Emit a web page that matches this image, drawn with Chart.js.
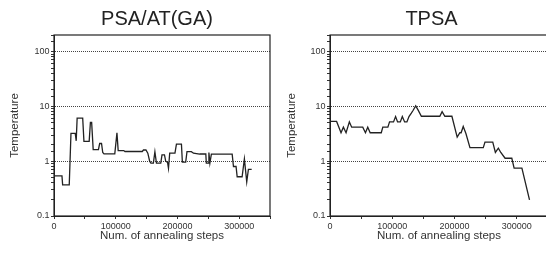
<!DOCTYPE html>
<html><head><meta charset="utf-8">
<script src="https://cdn.jsdelivr.net/npm/chart.js@4/dist/chart.umd.min.js"></script>
<style>
html,body{margin:0;padding:0;width:546px;height:253px;overflow:hidden;background:#fff;}
#c1{position:absolute;left:0;top:0;}
#c2{position:absolute;left:273px;top:0;}
.ttl{position:absolute;top:6px;height:24px;line-height:24px;text-align:center;
  font-family:'Liberation Sans', Arial, sans-serif;font-size:20px;color:#222;white-space:nowrap;z-index:2;}
#t1{left:0;width:314px;}
#t2{left:273px;width:317px;}
</style></head><body>
<canvas id="c1" width="314" height="253" style="width:314px;height:253px"></canvas>
<canvas id="c2" width="317" height="253" style="width:317px;height:253px"></canvas>
<div class="ttl" id="t1"></div>
<div class="ttl" id="t2"></div>
<script>
// ---- data ----
const chartTitles = ['PSA/AT(GA)', 'TPSA'];
const xTitle = 'Num. of annealing steps';
const yTitle = 'Temperature';
const xTickLabels = [0, 100000, 200000, 300000];
const yTickLabels = [0.1, 1, 10, 100];

const psaSteps = [0,12900,14000,24700,27500,34400,36000,37500,46500,48500,57000,59000,61000,63500,72000,74000,77000,79000,81000,98500,
  102000,104000,113000,115000,143000,145000,149000,152000,155000,157000,161000,163500,166000,173000,175000,179000,181000,184000,185500,187500,
  196000,198400,206500,208000,213400,215500,222600,226000,236000,246000,246800,250000,251000,252600,255000,288700,290800,295000,296800,304800,
  308500,312300,315000,320300];
const psaTemp = [0.54,0.54,0.37,0.37,3.2,3.2,2.35,6.1,6.1,2.3,2.3,5.1,5.1,1.63,1.63,2.1,2.1,1.44,1.36,1.36,
  3.3,1.56,1.56,1.5,1.5,1.6,1.6,1.4,1.0,0.92,0.92,1.48,0.92,0.92,1.3,1.3,1.0,0.95,0.74,1.4,
  1.4,2.04,2.04,0.96,0.96,1.49,1.49,1.4,1.35,1.35,0.92,0.92,1.44,0.92,1.34,1.34,0.8,0.8,0.52,0.52,
  1.1,0.42,0.71,0.71];

const tpsaSteps = [0,10600,17700,21500,25800,31100,34800,52600,56900,60600,64500,82300,84800,92900,95600,102000,105300,108500,112900,116100,
  119800,123500,126800,130600,133300,137600,141300,146700,176300,180000,184400,195700,204200,208500,210500,213900,218200,224700,246100,248800,
  261300,265500,270300,274200,281100,291900,295600,308100,320300];
const tpsaTemp = [5.3,5.3,3.3,4.17,3.3,5.2,4.17,4.17,3.3,4.17,3.3,3.3,4.17,4.17,5.2,5.2,6.5,5.2,5.2,6.5,
  5.2,5.2,6.5,7.5,8.4,10.2,8.6,6.6,6.6,8.0,6.6,6.6,2.74,3.3,3.3,4.3,3.2,1.77,1.77,2.22,
  2.22,1.44,1.73,1.44,1.13,1.13,0.745,0.745,0.197];

// ---- rendering ----
const FONT = "'Liberation Sans', Arial, sans-serif";
const isPow10 = v => Math.abs(Math.log10(v) - Math.round(Math.log10(v))) < 1e-9;

document.getElementById('t1').textContent = chartTitles[0];
document.getElementById('t2').textContent = chartTitles[1];

const frame = {
  id: 'frame',
  afterDatasetsDraw(chart) {
    const {ctx, chartArea: a} = chart;
    ctx.save();
    ctx.strokeStyle = '#222';
    ctx.lineWidth = 1.2;
    ctx.strokeRect(a.left, a.top, a.right - a.left, a.bottom - a.top);
    ctx.restore();
  }
};

function makeChart(id, steps, temps, yWidth, yTitlePad, padRight) {
  return new Chart(document.getElementById(id), {
    type: 'line',
    data: {
      datasets: [{
        data: steps.map((s, i) => ({x: s, y: temps[i]})),
        borderColor: '#222', borderWidth: 1.3, pointRadius: 0, tension: 0, fill: false
      }]
    },
    options: {
      responsive: false, animation: false, devicePixelRatio: 1,
      layout: {padding: {left: 0, top: 35, bottom: 0, right: padRight}},
      plugins: {
        legend: {display: false}, tooltip: {enabled: false}, title: {display: false}
      },
      scales: {
        x: {
          type: 'linear', min: 0, max: 350000,
          afterFit: s => { s.height = 37; },
          ticks: {stepSize: 50000, autoSkip: false, maxRotation: 0, padding: 2, color: '#333',
            font: {family: FONT, size: 9},
            callback: v => xTickLabels.includes(v) ? String(v) : ''},
          grid: {drawOnChartArea: false, drawTicks: true, tickLength: 3, tickColor: '#333'},
          border: {color: '#222', width: 1},
          title: {display: true, text: xTitle, color: '#333', font: {family: FONT, size: 11.5},
            padding: {top: 0, bottom: 10}}
        },
        y: {
          type: 'logarithmic', min: 0.1, max: 200,
          afterFit: s => { s.width = yWidth; },
          ticks: {autoSkip: false, padding: 1.5, color: '#333', font: {family: FONT, size: 9},
            callback: v => yTickLabels.some(t => Math.abs(t - v) < 1e-9) ? String(v) : ''},
          grid: {
            drawTicks: true, tickLength: 3, tickColor: '#333', lineWidth: 1,
            color: c => (c.tick && isPow10(c.tick.value) && c.tick.value > 0.5 && c.tick.value < 150) ? '#444' : 'rgba(0,0,0,0)'
          },
          border: {color: '#222', width: 1, dash: [1, 1]},
          title: {display: true, text: yTitle, color: '#333', font: {family: FONT, size: 11.5},
            padding: {top: yTitlePad, bottom: 0}}
        }
      }
    },
    plugins: [frame]
  });
}

makeChart('c1', psaSteps, psaTemp, 54, 8, 44);
makeChart('c2', tpsaSteps, tpsaTemp, 57, 12, 42);
</script>
</body></html>
